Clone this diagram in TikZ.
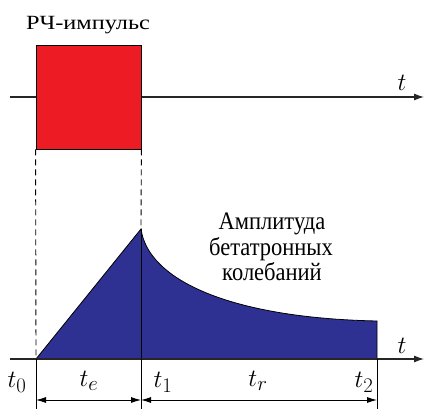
\documentclass[tikz,border=0pt]{standalone}
\usepackage{fontspec}
\newfontfamily\rufont{Liberation Serif}
\usetikzlibrary{arrows.meta}
\DeclareMathSizes{25}{25}{20}{15}
\definecolor{rfred}{HTML}{ED1C24}
\definecolor{ampblue}{HTML}{2E3192}
\newcommand{\rutext}[1]{\scalebox{1}[1.12]{#1}}
\begin{document}
\begin{tikzpicture}[x=1pt,y=-1pt,
  axis/.style={line width=1.1pt, draw=black!85, -{Latex[length=10pt,width=7pt]}},
  dimline/.style={line width=0.9pt, {Latex[length=10pt,width=6pt]}-{Latex[length=10pt,width=6pt]}},
  extline/.style={line width=0.9pt},
  guide/.style={line width=0.9pt, dashed, dash pattern=on 6pt off 4pt},
  lbl/.style={inner sep=0pt, font=\fontsize{25}{30}\selectfont},
  rulbl/.style={inner sep=0pt, anchor=base, font=\rufont\fontsize{22.5}{27}\selectfont}]
\useasboundingbox (0,0) rectangle (424,409);
% top axis
\coordinate (ta0) at (10,97);
\coordinate (ta1) at (424,97);
\draw[axis] (ta0) -- (ta1);
\node[lbl] (tt) at (402,83) {$t$};
% RF pulse
\node[draw=black, line width=0.8pt, fill=rfred, minimum width=105pt, minimum height=104pt, inner sep=0pt] (rf) at (88.5,97) {};
\node[inner sep=0pt, anchor=base, font=\rufont\fontsize{18}{22}\selectfont] (rflbl) at (88,30) {\scalebox{1.35}[1.12]{РЧ-импульс}};
% bottom points
\coordinate (t0) at (36,359);
\coordinate (peak) at (141,229);
\coordinate (t1) at (141,359);
\coordinate (endtop) at (377,321);
\coordinate (t2) at (377,359);
% amplitude area
\fill[ampblue] (t0) -- (peak) .. controls (148,280) and (230,318) .. (endtop) -- (t2) -- cycle;
\draw[line width=0.8pt] (t0) -- (peak) .. controls (148,280) and (230,318) .. (endtop) -- (t2);
\draw[extline] (peak) -- (t1);
% guides
\draw[guide] (rf.south west) -- (t0);
\draw[guide] (rf.south east) -- (peak);
% bottom axis
\coordinate (ba0) at (10,359);
\coordinate (ba1) at (424,359);
\draw[axis] (ba0) -- (ba1);
\node[lbl] (tb) at (402,346) {$t$};
% extension lines
\coordinate (e0) at (36,409);
\coordinate (e1) at (141,409);
\coordinate (e2) at (377,409);
\draw[extline] (t0) -- (e0);
\draw[extline] (t1) -- (e1);
\draw[extline] (t2) -- (e2);
% dimension arrows
\coordinate (d0) at (36,400);
\coordinate (d1) at (141,400);
\coordinate (d2) at (377,400);
\draw[dimline] (d0) -- (d1);
\draw[dimline] (d1) -- (d2);
% time labels
\node[lbl] (lt0) at (17,382) {$t_0$};
\node[lbl] (lte) at (89,381) {$t_e$};
\node[lbl] (lt1) at (163,382) {$t_1$};
\node[lbl] (ltr) at (258,381) {$t_r$};
\node[lbl] (lt2) at (364,382) {$t_2$};
% amplitude label
\node[rulbl] (am1) at (272,230) {\rutext{Амплитуда}};
\node[rulbl] (am2) at (271,256) {\rutext{бетатронных}};
\node[rulbl] (am3) at (272,281) {\rutext{колебаний}};
\end{tikzpicture}
\end{document}
